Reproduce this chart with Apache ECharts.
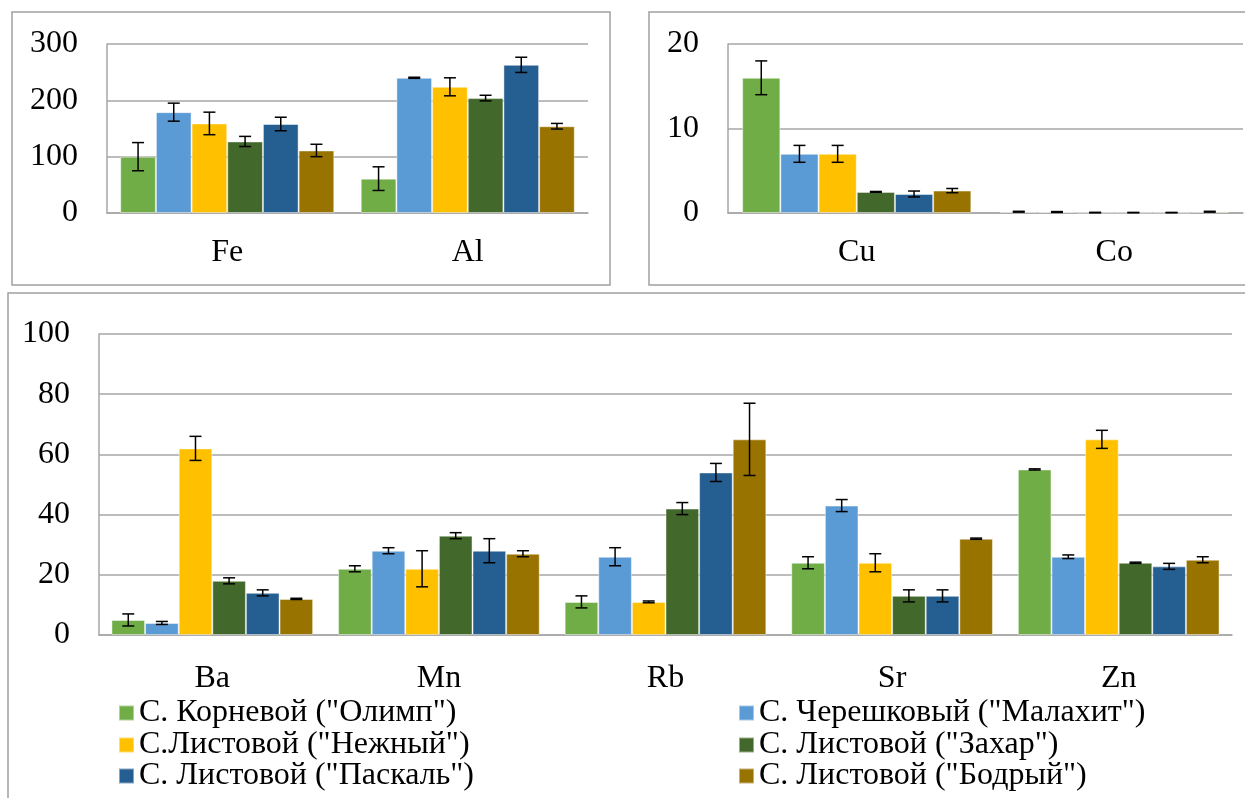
<!DOCTYPE html>
<html>
<head>
<meta charset="utf-8">
<script src="https://cdn.jsdelivr.net/npm/echarts@6/dist/echarts.min.js"></script>
<style>
html,body{margin:0;padding:0;background:#fff;}
#chart{width:1245px;height:798px;}
</style>
</head>
<body>
<div id="chart"></div>
<script>
// ---- data ----
const varieties = [
  'С. Корневой ("Олимп")',
  'С. Черешковый ("Малахит")',
  'С.Листовой ("Нежный")',
  'С. Листовой ("Захар")',
  'С. Листовой ("Паскаль")',
  'С. Листовой ("Бодрый")'
];
const colors = ['#70AD47', '#5B9BD5', '#FFC000', '#43682B', '#255E91', '#997300'];

const elementsA = ['Fe', 'Al'];
const valuesA = [
  [100, 61],
  [179, 240],
  [159, 224],
  [127, 204],
  [158, 263],
  [111, 154]
];
const errorsA = [
  [25, 21],
  [16, 1],
  [20, 16],
  [9, 5],
  [12, 13.5],
  [11, 5]
];
const ticksA = {min: 0, max: 300, interval: 100};

const elementsB = ['Cu', 'Co'];
const valuesB = [
  [16, 0.15],
  [7, 0.12],
  [7, 0.05],
  [2.5, 0.05],
  [2.25, 0.05],
  [2.65, 0.15]
];
const errorsB = [
  [2, 0.05],
  [1, 0.05],
  [1, 0.03],
  [0.05, 0.02],
  [0.35, 0.02],
  [0.25, 0.05]
];
const ticksB = {min: 0, max: 20, interval: 10};

const elementsC = ['Ba', 'Mn', 'Rb', 'Sr', 'Zn'];
const valuesC = [
  [5, 22, 11, 24, 55],
  [4, 28, 26, 43, 26],
  [62, 22, 11, 24, 65],
  [18, 33, 42, 13, 24],
  [14, 28, 54, 13, 22.8],
  [12, 27, 65, 32, 25]
];
const errorsC = [
  [2, 1, 2, 2, 0.2],
  [0.5, 1, 3, 2, 0.6],
  [4, 6, 0.3, 3, 3],
  [1, 1, 2, 2, 0.2],
  [1, 4, 3, 2, 1],
  [0.2, 1, 12, 0.2, 1]
];
const ticksC = {min: 0, max: 100, interval: 20};

// ---- chart ----
const FONT = '"Liberation Serif", "Times New Roman", serif';
const GAP = 0.11;
const GRID_COLOR = '#a6a6a6';

const panels = [
  {cats: elementsA, vals: valuesA, errs: errorsA, ticks: ticksA, grid: {left: 107, top: 44, width: 481, height: 169}, margin: 24},
  {cats: elementsB, vals: valuesB, errs: errorsB, ticks: ticksB, grid: {left: 728, top: 44, width: 515, height: 169}, margin: 24},
  {cats: elementsC, vals: valuesC, errs: errorsC, ticks: ticksC, grid: {left: 99, top: 334, width: 1133, height: 301}, margin: 28}
];

const grids = [], xAxes = [], yAxes = [], series = [];

function errRender(params, api) {
  const cat = api.value(0), val = api.value(1), err = api.value(2), s = api.value(3);
  const catW = api.size([1, 0])[0];
  const barW = catW * (1 - GAP) / 6;
  const c = api.coord([cat, val]);
  const x = c[0] + (s - 2.5) * barW;
  const yT = api.coord([cat, val + err])[1];
  const yB = api.coord([cat, Math.max(val - err, 0)])[1];
  const cap = 6;
  const st = {stroke: '#000', lineWidth: 1.5};
  return {
    type: 'group',
    children: [
      {type: 'line', shape: {x1: x, y1: yT, x2: x, y2: yB}, style: st},
      {type: 'line', shape: {x1: x - cap, y1: yT, x2: x + cap, y2: yT}, style: st},
      {type: 'line', shape: {x1: x - cap, y1: yB, x2: x + cap, y2: yB}, style: st}
    ]
  };
}

panels.forEach((p, gi) => {
  grids.push(Object.assign({containLabel: false}, p.grid));
  xAxes.push({
    type: 'category', gridIndex: gi, data: p.cats,
    axisLine: {show: true, lineStyle: {color: GRID_COLOR, width: 1.5}},
    axisTick: {show: false},
    axisLabel: {fontFamily: FONT, fontSize: 32, color: '#000', margin: p.margin}
  });
  yAxes.push({
    type: 'value', gridIndex: gi, min: p.ticks.min, max: p.ticks.max, interval: p.ticks.interval,
    axisLine: {show: true, lineStyle: {color: GRID_COLOR, width: 1.5}},
    axisTick: {show: false},
    splitLine: {show: true, lineStyle: {color: GRID_COLOR, width: 1.5}},
    axisLabel: {fontFamily: FONT, fontSize: 32, color: '#000', margin: 29}
  });
  p.vals.forEach((arr, s) => {
    series.push({
      type: 'bar', name: varieties[s], xAxisIndex: gi, yAxisIndex: gi,
      data: arr, barGap: 0, barCategoryGap: (GAP * 100) + '%',
      barMinHeight: 0,
      itemStyle: {color: colors[s], borderColor: 'rgba(255,255,255,0.45)', borderWidth: 1},
      silent: true
    });
  });
  const errData = [];
  p.vals.forEach((arr, s) => {
    arr.forEach((v, ci) => errData.push([ci, v, p.errs[s][ci], s]));
  });
  series.push({
    type: 'custom', xAxisIndex: gi, yAxisIndex: gi, renderItem: errRender,
    data: errData, z: 10, silent: true,
    encode: {x: 0, y: 1}
  });
});

// legend: two columns of three rows, in reading order left-right
const legendPos = [
  [118, 697], [738, 697],
  [118, 729], [738, 729],
  [118, 760], [738, 760]
];
const legends = varieties.map((name, i) => ({
  orient: 'vertical', icon: 'rect', itemWidth: 15, itemHeight: 15,
  selectedMode: false, padding: 0,
  left: legendPos[i][0], top: legendPos[i][1],
  data: [name],
  textStyle: {fontFamily: FONT, fontSize: 32, color: '#000', lineHeight: 30, padding: [0, 0, 0, 0]}
}));

const chart = echarts.init(document.getElementById('chart'), null, {renderer: 'canvas'});
chart.setOption({
  animation: false,
  backgroundColor: '#fff',
  color: colors,
  grid: grids,
  xAxis: xAxes,
  yAxis: yAxes,
  series: series,
  legend: legends,
  graphic: [
    {type: 'rect', shape: {x: 12, y: 12, width: 598, height: 273}, style: {fill: 'none', stroke: '#a0a0a0', lineWidth: 1.5}, z: -1},
    {type: 'rect', shape: {x: 649, y: 12, width: 620, height: 273}, style: {fill: 'none', stroke: '#a0a0a0', lineWidth: 1.5}, z: -1},
    {type: 'rect', shape: {x: 8, y: 293, width: 1260, height: 520}, style: {fill: 'none', stroke: '#a0a0a0', lineWidth: 1.5}, z: -1}
  ]
});
</script>
</body>
</html>
